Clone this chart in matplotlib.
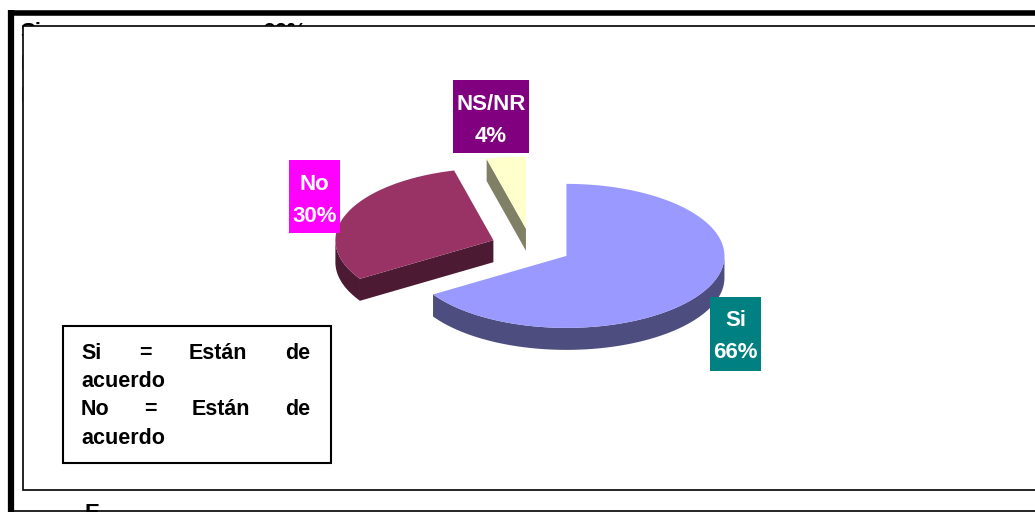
"""
Pie 3D: Si / No / NS-NR
"""
import numpy as np
import matplotlib
matplotlib.use('Agg')
import matplotlib.pyplot as plt
from matplotlib.patches import Polygon, Rectangle

plt.rcParams['font.family'] = ['Liberation Sans', 'DejaVu Sans']

# datos
categories = ['Si', 'No', 'NS/NR']
values = [66, 30, 4]
top_colors = ['#9999FF', '#993366', '#FFFFCC']
side_colors = ['#4D4D80', '#4D1A33', '#808066']
label_colors = ['#008080', '#FF00FF', '#800080']
legend_lines = [['Si', '=', 'Están', 'de'], ['acuerdo'],
                ['No', '=', 'Están', 'de'], ['acuerdo']]

# geometria (pixeles)
W, H = 1035, 512
CX, CY = 531, 247
RX, RY = 158, 72
DEPTH = 22
EXPLODE = 0.256
label_boxes = [(710, 297, 51, 74), (289, 160, 51, 73), (453, 80, 76, 73)]


def pt(cx, cy, t, dy=0):
    t = np.radians(t)
    return np.column_stack([cx + RX * np.cos(t), cy - RY * np.sin(t) + dy])


fig = plt.figure(figsize=(W / 100, H / 100), dpi=100)
ax = fig.add_axes([0, 0, 1, 1])
ax.set_xlim(0, W)
ax.set_ylim(H, 0)
ax.axis('off')

# textos de fondo tapados por el grafico
for txt, x, y in [('Si', 20, 38), ('66%', 262, 38), ('No', 20, 70), ('NS/NR', 20, 102)]:
    ax.text(x, y, txt, fontsize=16, fontweight='bold', va='baseline', zorder=1)
ax.text(85, 519, 'E', fontsize=16, fontweight='bold', va='baseline', zorder=1)

# area del grafico
ax.add_patch(Rectangle((23, 25.5), 1040, 464.5, facecolor='white', edgecolor='black',
                       lw=1.2, zorder=2))

# marco exterior
ax.plot([11, 11], [9.5, H], color='black', lw=4.5, solid_capstyle='butt', zorder=10)
ax.plot([8.5, W], [12.5, 12.5], color='black', lw=4, solid_capstyle='butt', zorder=10)
ax.plot([8.5, W], [510.5, 510.5], color='black', lw=1.2, zorder=10)

# porciones
total = sum(values)
cum = np.cumsum([0] + values)
slices = []
for i, v in enumerate(values):
    hi = 90 - 360 * cum[i] / total
    lo = 90 - 360 * cum[i + 1] / total
    mid = np.radians((lo + hi) / 2)
    cx = CX + EXPLODE * RX * np.cos(mid)
    cy = CY - EXPLODE * RY * np.sin(mid)
    slices.append((i, lo, hi, cx, cy, np.sin(mid)))

# de atras hacia adelante
for i, lo, hi, cx, cy, s in sorted(slices, key=lambda x: -x[5]):
    z = 3 + (1 - s)
    apex = np.array([[cx, cy]])
    # caras de corte
    for ang, vis in [(lo, np.cos(np.radians(lo)) > 1e-6), (hi, np.cos(np.radians(hi)) < -1e-6)]:
        if vis:
            e = pt(cx, cy, ang)
            face = np.vstack([apex, e, e + [0, DEPTH], apex + [0, DEPTH]])
            ax.add_patch(Polygon(face, closed=True, facecolor=side_colors[i],
                                 edgecolor='none', zorder=z))
    # lado curvo visible (mitad frontal)
    for k in (-1, 0, 1):
        a0 = max(lo, -180 + 360 * k)
        a1 = min(hi, 360 * k)
        if a1 > a0:
            ts = np.linspace(a0, a1, 120)
            side = np.vstack([pt(cx, cy, ts), pt(cx, cy, ts[::-1], DEPTH)])
            ax.add_patch(Polygon(side, closed=True, facecolor=side_colors[i],
                                 edgecolor='none', zorder=z))
    # cara superior
    ts = np.linspace(lo, hi, 200)
    top = np.vstack([apex, pt(cx, cy, ts)])
    ax.add_patch(Polygon(top, closed=True, facecolor=top_colors[i],
                         edgecolor='none', zorder=z + 0.1))

# etiquetas
for i, (bx, by, bw, bh) in enumerate(label_boxes):
    ax.add_patch(Rectangle((bx, by), bw, bh, facecolor=label_colors[i],
                           edgecolor='none', zorder=6))
    ax.text(bx + bw / 2, by + 29.5, categories[i], color='white', fontsize=16,
            fontweight='bold', ha='center', va='baseline', zorder=7)
    ax.text(bx + bw / 2, by + 61.5, f'{values[i]}%', color='white', fontsize=16,
            fontweight='bold', ha='center', va='baseline', zorder=7)

# leyenda justificada
ax.add_patch(Rectangle((63, 326), 268, 137, facecolor='white', edgecolor='black',
                       lw=1.5, zorder=6))
renderer = fig.canvas.get_renderer()
x_left, x_right = 81, 310
for j, words in enumerate(legend_lines):
    y = 359 + j * 28.2
    objs = [ax.text(0, y, w, fontsize=15.5, fontweight='bold', va='baseline', zorder=7)
            for w in words]
    widths = [o.get_window_extent(renderer).width for o in objs]
    if len(objs) == 1:
        objs[0].set_x(x_left)
        continue
    gap = (x_right - x_left - sum(widths)) / (len(objs) - 1)
    x = x_left
    for o, w in zip(objs, widths):
        o.set_x(x)
        x += w + gap

fig.savefig('out.png', dpi=100)
